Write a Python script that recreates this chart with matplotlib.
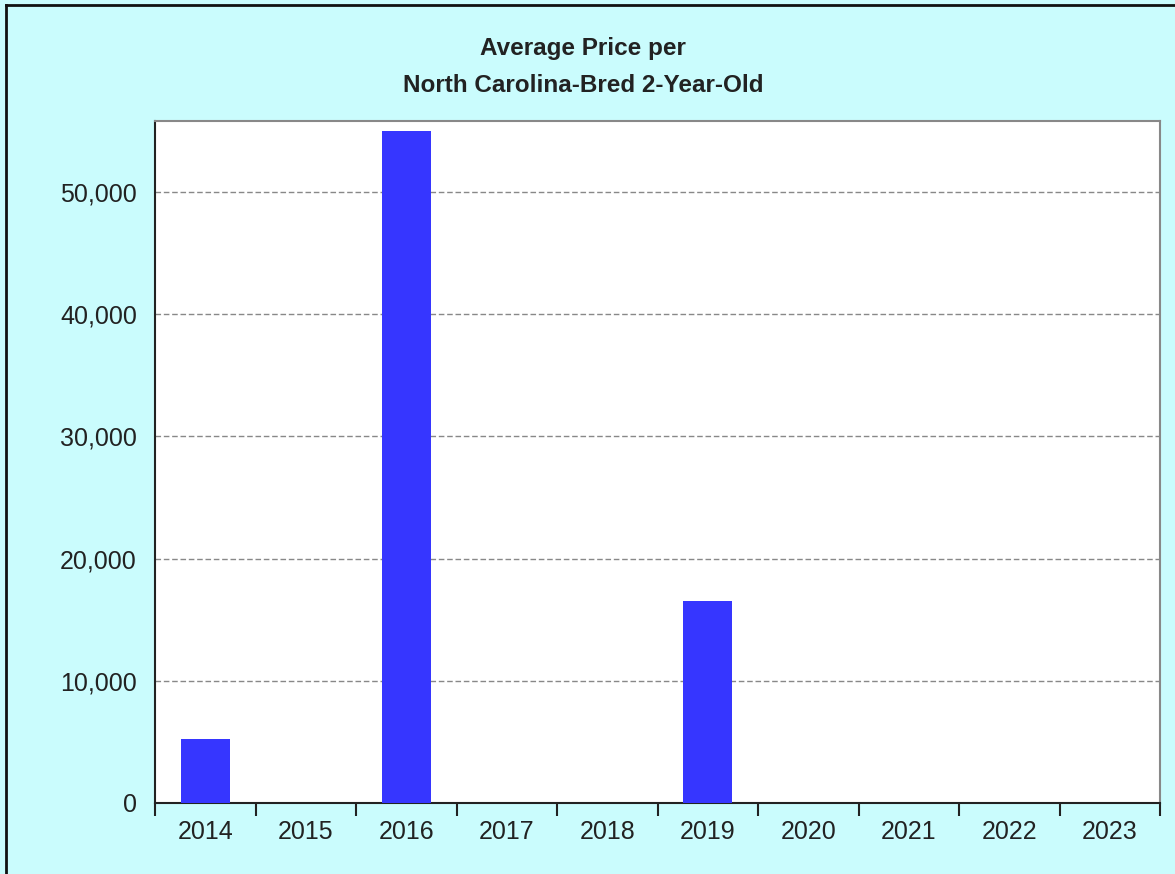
import matplotlib
matplotlib.use("Agg")
import matplotlib.pyplot as plt
from matplotlib.lines import Line2D
from matplotlib.ticker import FuncFormatter, FixedLocator, NullFormatter

years = ["2014", "2015", "2016", "2017", "2018", "2019", "2020", "2021", "2022", "2023"]
avg_price = [5200, 0, 55000, 0, 0, 16500, 0, 0, 0, 0]
title_lines = ["Average Price per", "North Carolina-Bred 2-Year-Old"]

W, H = 1175, 874
fig = plt.figure(figsize=(W / 100, H / 100), dpi=100)
fig.patch.set_facecolor("#CAFCFD")
plt.rcParams["font.family"] = ["Liberation Sans", "DejaVu Sans"]

# outer border (top & left visible)
fig.add_artist(Line2D([6 / W, 6 / W], [0, 1 - 5 / H], transform=fig.transFigure, color="#111111", lw=2))
fig.add_artist(Line2D([6 / W, 1], [1 - 5 / H, 1 - 5 / H], transform=fig.transFigure, color="#111111", lw=2))

left, right, top, bottom = 155, 1160, 121, 803
ax = fig.add_axes([left / W, 1 - bottom / H, (right - left) / W, (bottom - top) / H])
ax.set_facecolor("white")

x = list(range(len(years)))
ax.bar(x, avg_price, width=0.49, color="#3636FF", zorder=3)

ax.set_xlim(-0.5, len(years) - 0.5)
ax.set_ylim(0, 55800)

ax.set_yticks([0, 10000, 20000, 30000, 40000, 50000])
ax.yaxis.set_major_formatter(FuncFormatter(lambda v, p: f"{int(v):,}"))
ax.tick_params(axis="y", length=0, pad=13, labelsize=18, labelcolor="#222222")

ax.xaxis.set_major_locator(FixedLocator([i - 0.5 for i in range(len(years) + 1)]))
ax.xaxis.set_major_formatter(NullFormatter())
ax.xaxis.set_minor_locator(FixedLocator(x))
ax.set_xticklabels(years, minor=True)
ax.tick_params(axis="x", which="major", length=9, width=1.5, color="#222222", direction="out")
ax.tick_params(axis="x", which="minor", length=0, pad=12, labelsize=18, labelcolor="#222222")

for v in [10000, 20000, 30000, 40000, 50000]:
    ax.axhline(v, color="#888888", lw=1, ls=(0, (4, 2)), zorder=1)

ax.spines["left"].set_color("#222222")
ax.spines["left"].set_linewidth(1.5)
ax.spines["bottom"].set_color("#222222")
ax.spines["bottom"].set_linewidth(1.5)
ax.spines["top"].set_color("#888888")
ax.spines["right"].set_color("#888888")
ax.spines["top"].set_linewidth(1.5)
ax.spines["right"].set_linewidth(1.5)

fig.text(583 / W, 1 - 48 / H, title_lines[0], ha="center", va="center", fontsize=17.5, fontweight="bold", color="#222222")
fig.text(583 / W, 1 - 85 / H, title_lines[1], ha="center", va="center", fontsize=17.5, fontweight="bold", color="#222222")

fig.savefig("out.png", dpi=100, facecolor=fig.get_facecolor())
